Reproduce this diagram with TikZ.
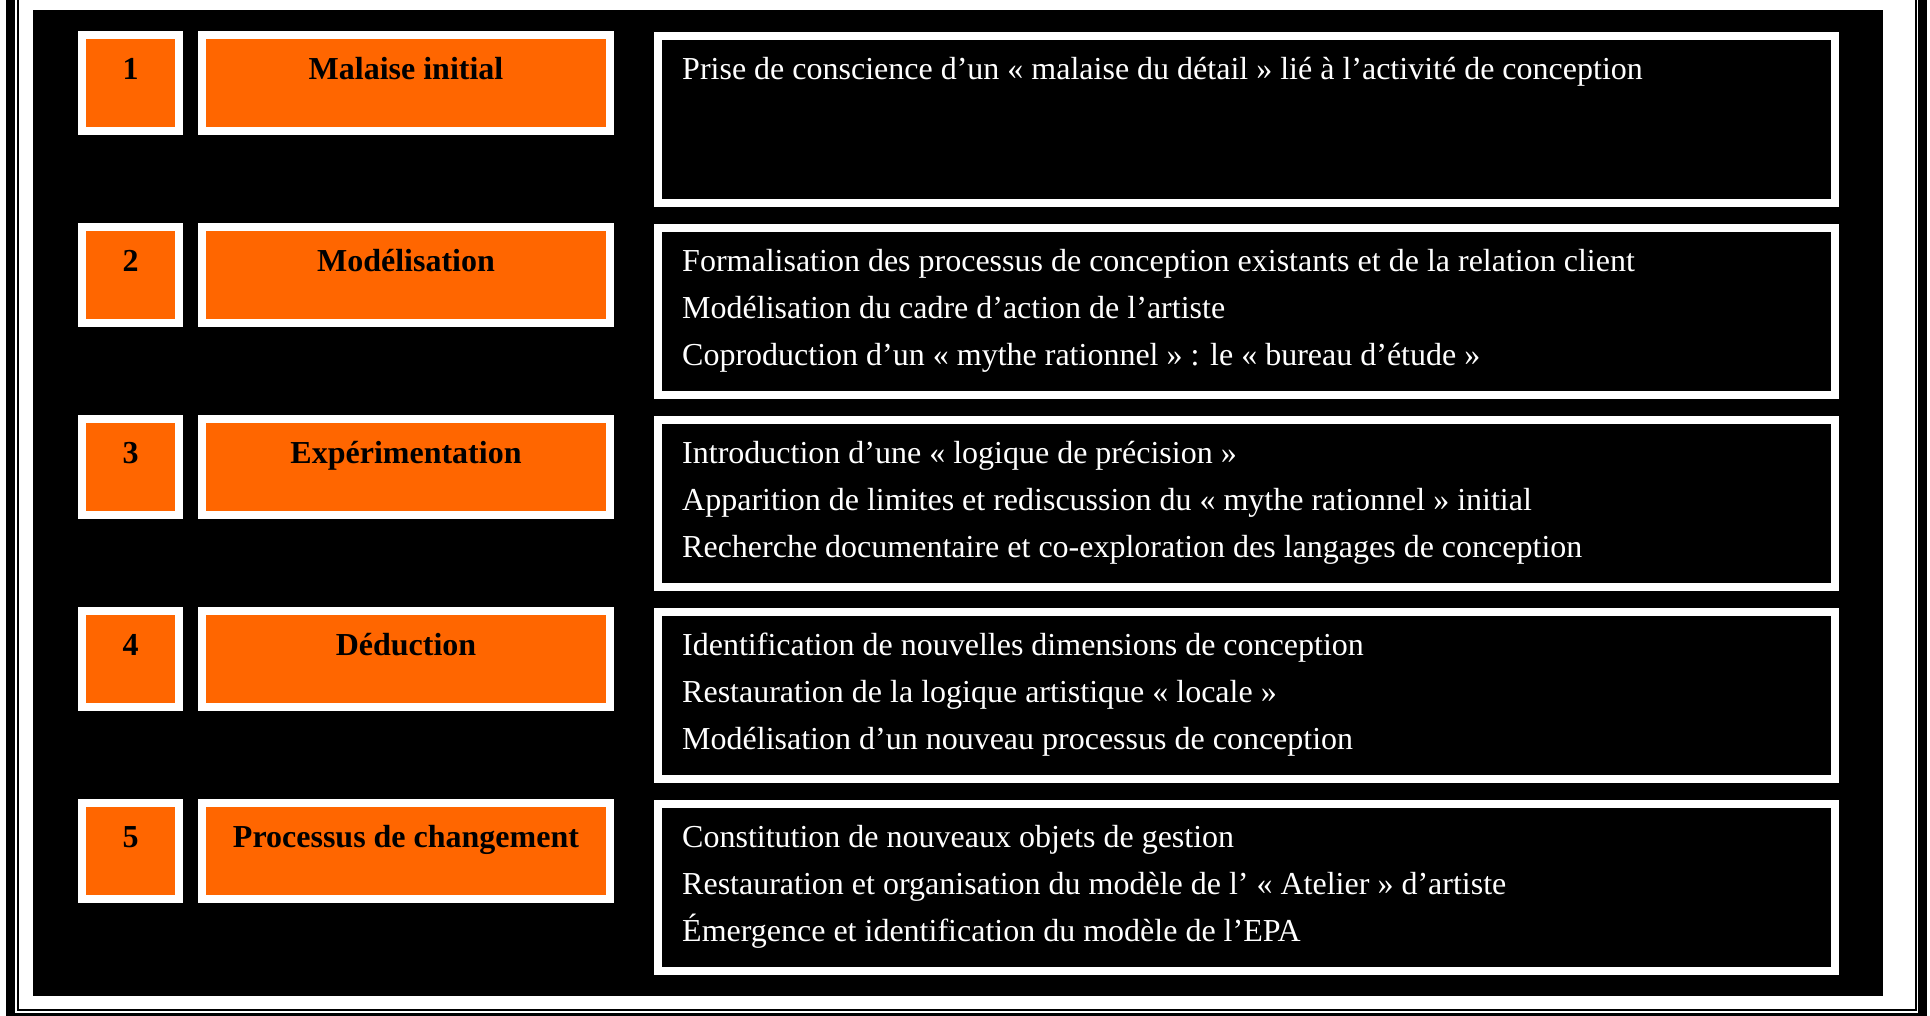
\documentclass[tikz,border=0pt]{standalone}
\usepackage{fontspec}
\setmainfont{Liberation Serif}
\definecolor{orng}{HTML}{FF6600}
\tikzset{
  numbox/.style={draw=white, line width=8pt, fill=orng, minimum width=97pt, minimum height=96pt, inner sep=0pt},
  titlebox/.style={numbox, minimum width=408pt},
  textbox/.style={draw=white, line width=8pt, fill=black, minimum width=1177pt, minimum height=167pt, inner sep=0pt},
  headtxt/.style={font=\fontsize{32}{38}\selectfont\bfseries, text=black, anchor=base, inner sep=0pt},
  bodytxt/.style={font=\fontsize{32}{38}\selectfont, text=white, anchor=base west, inner sep=0pt},
  thickrule/.style={draw=black, line width=9pt},
  thinrule/.style={draw=black, line width=2pt},
}
\newcommand\rowboxes[3]{%
  \node[numbox] (nb#1) at (130.5, #2+52) {};
  \node[titlebox] (tb#1) at (406, #2+52) {};
  \node[textbox] (xb#1) at (1246.5, #2+88) {};
  \node[headtxt] (nt#1) at (130.5, #2+48) {#1};
  \node[headtxt] (tt#1) at (406, #2+48) {#3};
}
\begin{document}
\begin{tikzpicture}[x=1pt, y=-1pt]
\useasboundingbox (0,0) rectangle (1930,1015);
\fill[white] (0,0) rectangle (1930,1015);
% outer double frame
\draw[thickrule] (10.5,-5) -- (10.5,1017.5) -- (1922.5,1017.5) -- (1922.5,-5);
\draw[thinrule] (18,-5) -- (18,1010) -- (1916,1010) -- (1916,-5);
% black background
\fill[black] (33,10) rectangle (1883,996);
% rows
\rowboxes{1}{31}{Malaise initial}
\node[bodytxt] (l1a) at (682, 79) {Prise de conscience d’un « malaise du détail » lié à l’activité de conception};
\rowboxes{2}{223}{Modélisation}
\node[bodytxt] (l2a) at (682, 271) {Formalisation des processus de conception existants et de la relation client};
\node[bodytxt] (l2b) at (682, 318) {Modélisation du cadre d’action de l’artiste};
\node[bodytxt] (l2c) at (682, 365) {Coproduction d’un « mythe rationnel » : le « bureau d’étude »};
\rowboxes{3}{415}{Expérimentation}
\node[bodytxt] (l3a) at (682, 463) {Introduction d’une « logique de précision »};
\node[bodytxt] (l3b) at (682, 510) {Apparition de limites et rediscussion du « mythe rationnel » initial};
\node[bodytxt] (l3c) at (682, 557) {Recherche documentaire et co-exploration des langages de conception};
\rowboxes{4}{607}{Déduction}
\node[bodytxt] (l4a) at (682, 655) {Identification de nouvelles dimensions de conception};
\node[bodytxt] (l4b) at (682, 702) {Restauration de la logique artistique « locale »};
\node[bodytxt] (l4c) at (682, 749) {Modélisation d’un nouveau processus de conception};
\rowboxes{5}{799}{Processus de changement}
\node[bodytxt] (l5a) at (682, 847) {Constitution de nouveaux objets de gestion};
\node[bodytxt] (l5b) at (682, 894) {Restauration et organisation du modèle de l’ « Atelier » d’artiste};
\node[bodytxt] (l5c) at (682, 941) {Émergence et identification du modèle de l’EPA};
\end{tikzpicture}
\end{document}
